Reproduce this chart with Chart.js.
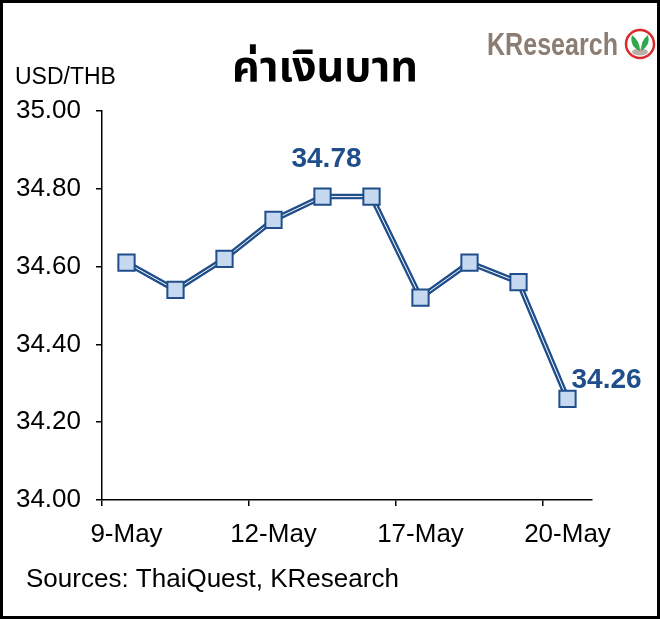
<!DOCTYPE html>
<html>
<head>
<meta charset="utf-8">
<script src="https://cdn.jsdelivr.net/npm/chart.js@4"></script>
<style>
  html, body { margin:0; padding:0; background:#fff; }
  canvas { display:block; }
</style>
</head>
<body>
<canvas id="c" width="660" height="619"></canvas>
<script>
// USD/THB daily close
const dates = ['9-May','10-May','11-May','12-May','13-May','16-May','17-May','18-May','19-May','20-May'];
const rates = [34.61, 34.54, 34.62, 34.72, 34.78, 34.78, 34.52, 34.61, 34.56, 34.26];
const tickLabels = ['9-May','12-May','17-May','20-May'];
const yTicks = [34.00, 34.20, 34.40, 34.60, 34.80, 35.00];
const labelled = [4, 9]; // points with value labels

const BLUE = '#1F4E8A';
const FILL = '#C6D9F1';
const FONT = 'Liberation Sans, Arial, sans-serif';

const decor = {
  id:'decor',
  afterDraw(chart){
    const ctx = chart.ctx;
    ctx.save();
    // title
    ctx.fillStyle = '#000';
    ctx.font = 'bold 43px "Noto Sans Thai", "Noto Sans", "DejaVu Sans", sans-serif';
    ctx.textAlign = 'center';
    ctx.textBaseline = 'alphabetic';
    ctx.fillText('ค่าเงินบาท', 325, 81);
    // unit + source
    ctx.textAlign = 'left';
    ctx.font = '23px ' + FONT;
    ctx.fillText('USD/THB', 15, 84);
    ctx.font = '26px ' + FONT;
    ctx.fillText('Sources: ThaiQuest, KResearch', 26, 587);

    // value labels
    const meta = chart.getDatasetMeta(2);
    ctx.fillStyle = BLUE;
    ctx.font = 'bold 28px ' + FONT;
    labelled.forEach(i=>{
      const p = meta.data[i];
      const txt = rates[i].toFixed(2);
      if (i === rates.length-1){
        ctx.textAlign = 'left';
        ctx.fillText(txt, p.x+4, p.y-11);
      } else {
        ctx.textAlign = 'center';
        ctx.fillText(txt, p.x+4, p.y-30);
      }
    });

    // logo (condensed text)
    ctx.textAlign = 'left';
    ctx.font = 'bold 31px ' + FONT;
    ctx.fillStyle = '#8C7D72';
    const w = ctx.measureText('KResearch').width;
    ctx.save();
    ctx.translate(487, 55);
    ctx.scale(131 / w, 1);
    ctx.fillText('KResearch', 0, 0);
    ctx.restore();
    const cx = 640, cy = 44, r = 14;
    ctx.fillStyle = '#fff';
    ctx.beginPath(); ctx.arc(cx, cy, r, 0, Math.PI*2); ctx.fill();
    ctx.fillStyle = '#B8B0A8';
    ctx.beginPath(); ctx.ellipse(cx, cy+8, 8, 3.5, 0, 0, Math.PI*2); ctx.fill();
    ctx.fillStyle = '#2FA84F';
    ctx.beginPath();
    ctx.moveTo(cx, cy+7); ctx.quadraticCurveTo(cx-11, cy+2, cx-8, cy-9); ctx.quadraticCurveTo(cx, cy-3, cx, cy+7); ctx.fill();
    ctx.beginPath();
    ctx.moveTo(cx+1, cy+7); ctx.quadraticCurveTo(cx+11, cy+1, cx+8, cy-9); ctx.quadraticCurveTo(cx+1, cy-4, cx+1, cy+7); ctx.fill();
    ctx.strokeStyle = '#DA2A2A';
    ctx.lineWidth = 2.5;
    ctx.beginPath(); ctx.arc(cx, cy, r, 0, Math.PI*2); ctx.stroke();

    // frame
    ctx.strokeStyle = '#000';
    ctx.lineWidth = 3;
    ctx.strokeRect(1.5, 1.5, 657, 616);
    ctx.restore();
  }
};

new Chart(document.getElementById('c').getContext('2d'), {
  type:'line',
  data:{
    labels: dates,
    datasets:[
      { data: rates, borderColor: BLUE, borderWidth: 5.5, pointRadius: 0, order: 2 },
      { data: rates, borderColor: '#fff', borderWidth: 1, pointRadius: 0, order: 1 },
      { data: rates, showLine: false, pointStyle: 'rect', pointRadius: 11.5,
        pointBackgroundColor: FILL, pointBorderColor: BLUE, pointBorderWidth: 2, order: 0 }
    ]
  },
  options:{
    responsive:false,
    animation:false,
    devicePixelRatio:1,
    layout:{ padding:{ left:0, right:68, top:111, bottom:69 } },
    plugins:{ legend:{ display:false }, tooltip:{ enabled:false } },
    scales:{
      x:{
        offset:true,
        afterFit(s){ s.height = 50; },
        border:{ color:'#000', width:1.5 },
        grid:{
          offset:true, drawOnChartArea:false, drawTicks:true, tickLength:6, lineWidth:1.5,
          color: c => (c.type === 'tick' && tickLabels.includes(dates[c.index])) ? '#000' : 'rgba(0,0,0,0)'
        },
        ticks:{
          autoSkip:false, maxRotation:0, padding:13, color:'#000',
          font:{ family:FONT, size:26 },
          callback:(v,i)=> tickLabels.includes(dates[i]) ? dates[i] : ''
        }
      },
      y:{
        min: yTicks[0], max: yTicks[yTicks.length-1],
        afterFit(s){ s.width = 102; },
        afterBuildTicks(s){ s.ticks = yTicks.map(v=>({ value:v })); },
        border:{ color:'#000', width:1.5 },
        grid:{ drawOnChartArea:false, drawTicks:true, tickLength:6, lineWidth:1.5, color:'#000' },
        ticks:{
          padding:15, color:'#000',
          font:{ family:FONT, size:26 },
          callback: v => Number(v).toFixed(2)
        }
      }
    }
  },
  plugins:[decor]
});
</script>
</body>
</html>
